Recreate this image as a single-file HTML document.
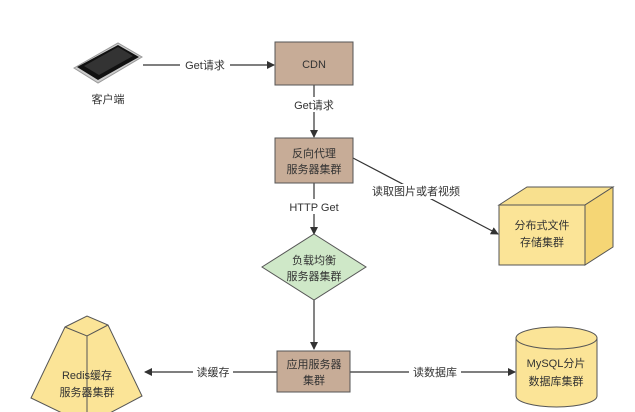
<!DOCTYPE html>
<html><head><meta charset="utf-8"><style>
html,body{margin:0;padding:0;background:#fff}
svg{display:block}
text{font-family:"Liberation Sans","Noto Sans CJK SC",sans-serif;font-size:11px;fill:#333}
</style></head><body>
<svg width="635" height="412" viewBox="0 0 635 412" xmlns="http://www.w3.org/2000/svg">
<defs>
<marker id="a" markerWidth="8" markerHeight="8" refX="7" refY="4" orient="auto" markerUnits="userSpaceOnUse">
<path d="M0,0 L8,4 L0,8 Z" fill="#333"/></marker>
</defs>
<!-- phone -->
<polygon points="74,68 118,43 142,57 98,83" fill="#ccc" stroke="#999" stroke-width="1"/>
<polygon points="77,67 118,45 139,57 98,80" fill="#111"/>
<polygon points="84,66 118,47 133,56 99,75" fill="#333"/>
<text x="108" y="103" text-anchor="middle">客户端</text>
<!-- lines -->
<g stroke="#333" stroke-width="1.2" fill="none">
<line x1="143" y1="65" x2="274" y2="65" marker-end="url(#a)"/>
<line x1="314" y1="85" x2="314" y2="137" marker-end="url(#a)"/>
<line x1="314" y1="183" x2="314" y2="234" marker-end="url(#a)"/>
<line x1="314" y1="300" x2="314" y2="349" marker-end="url(#a)"/>
<line x1="277" y1="372" x2="145" y2="372" marker-end="url(#a)"/>
<line x1="350" y1="372" x2="515" y2="372" marker-end="url(#a)"/>
<line x1="353" y1="158" x2="498" y2="234" marker-end="url(#a)"/>
</g>
<rect x="180" y="57" width="50" height="15" fill="#fff"/>
<text x="205" y="69" text-anchor="middle">Get请求</text>
<rect x="290" y="97" width="50" height="15" fill="#fff"/>
<text x="314" y="109" text-anchor="middle">Get请求</text>
<rect x="286" y="199" width="56" height="15" fill="#fff"/>
<text x="314" y="211" text-anchor="middle">HTTP Get</text>
<rect x="193" y="364" width="40" height="15" fill="#fff"/>
<text x="213" y="376" text-anchor="middle">读缓存</text>
<rect x="409" y="364" width="52" height="15" fill="#fff"/>
<text x="435" y="376" text-anchor="middle">读数据库</text>
<rect x="370" y="184" width="92" height="15" fill="#fff"/>
<text x="416" y="195" text-anchor="middle">读取图片或者视频</text>
<!-- boxes -->
<rect x="275" y="42" width="78" height="43" fill="#c7ac97" stroke="#555" stroke-width="1"/>
<text x="314" y="68" text-anchor="middle">CDN</text>
<rect x="275" y="138" width="78" height="45" fill="#c7ac97" stroke="#555" stroke-width="1"/>
<text x="314" y="157" text-anchor="middle">反向代理</text>
<text x="314" y="173" text-anchor="middle">服务器集群</text>
<polygon points="314,234 366,267 314,300 262,267" fill="#cfe8c8" stroke="#555" stroke-width="1"/>
<text x="314" y="264" text-anchor="middle">负载均衡</text>
<text x="314" y="280" text-anchor="middle">服务器集群</text>
<rect x="277" y="351" width="73" height="41" fill="#c7ac97" stroke="#555" stroke-width="1"/>
<text x="314" y="368" text-anchor="middle">应用服务器</text>
<text x="314" y="384" text-anchor="middle">集群</text>
<!-- cube -->
<polygon points="499,205 527,187 613,187 585,205" fill="#f8e08e" stroke="#555"/>
<polygon points="585,205 613,187 613,247 585,265" fill="#f5d675" stroke="#555"/>
<rect x="499" y="205" width="86" height="60" fill="#fbe497" stroke="#555"/>
<text x="542" y="229" text-anchor="middle">分布式文件</text>
<text x="542" y="246" text-anchor="middle">存储集群</text>
<!-- redis pyramid -->
<polygon points="65,327 87,316 108,325 142,396 87,425 31,398" fill="#fbe497" stroke="#555"/>
<polyline points="65,327 87,336 108,325" fill="none" stroke="#555"/>
<line x1="87" y1="336" x2="87" y2="412" stroke="#555"/>
<text x="87" y="379" text-anchor="middle">Redis缓存</text>
<text x="87" y="396" text-anchor="middle">服务器集群</text>
<!-- mysql -->
<path d="M516,338 L516,396 A40.5,11 0 0 0 597,396 L597,338" fill="#fbe497" stroke="#555"/>
<ellipse cx="556.5" cy="338" rx="40.5" ry="11" fill="#fbe497" stroke="#555"/>
<text x="556" y="367" text-anchor="middle">MySQL分片</text>
<text x="556" y="385" text-anchor="middle">数据库集群</text>
</svg>
</body></html>
